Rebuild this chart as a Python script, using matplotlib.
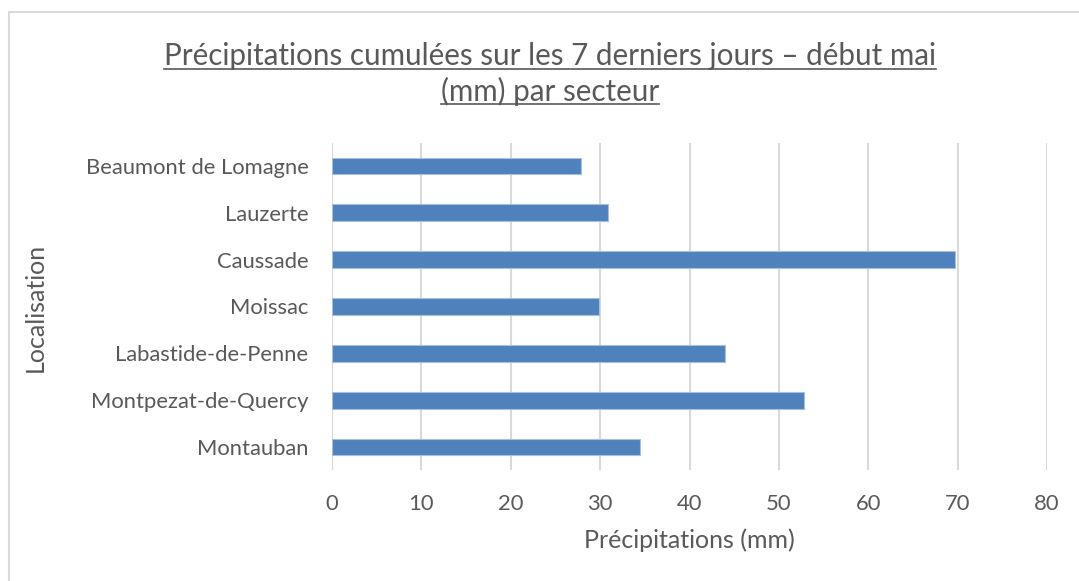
import matplotlib
matplotlib.use("Agg")
import matplotlib.pyplot as plt
from matplotlib.lines import Line2D
from matplotlib.patches import Rectangle

# Données (mm)
secteurs = [
    "Montauban",
    "Montpezat-de-Quercy",
    "Labastide-de-Penne",
    "Moissac",
    "Caussade",
    "Lauzerte",
    "Beaumont de Lomagne",
]
precipitations = [34.5, 52.8, 44.0, 29.9, 69.7, 30.9, 27.9]
x_ticks = [0, 10, 20, 30, 40, 50, 60, 70, 80]

TITRE_1 = "Précipitations cumulées sur les 7 derniers jours – début mai"
TITRE_2 = "(mm) par secteur"

GRIS_TEXTE = "#595959"
GRIS_GRILLE = "#d9d9d9"
BLEU = "#4f81bd"

plt.rcParams["font.family"] = ["Lato", "DejaVu Sans"]

W, H = 1079, 581
fig = plt.figure(figsize=(W / 100, H / 100), dpi=100)

# cadre du graphique (style Excel)
fig.patches.append(Rectangle((9 / W, -0.05), 1.2, (H - 12) / H + 0.05,
                             transform=fig.transFigure, fill=False,
                             edgecolor="#d9d9d9", linewidth=1.5))

ax = fig.add_axes([332 / W, 1 - 470.4 / H, (1047 - 332) / W, (470.4 - 142.6) / H])

ypos = list(range(len(secteurs)))
ax.barh(ypos, precipitations, height=0.36, color=BLEU,
        edgecolor="#a7bfde", linewidth=0.8, zorder=3)

ax.set_xlim(0, 80)
ax.set_ylim(-0.5, len(secteurs) - 0.5)
ax.set_xticks(x_ticks)
ax.set_yticks(ypos)
ax.set_yticklabels(secteurs)
ax.tick_params(axis="both", length=0, labelsize=15.8, colors=GRIS_TEXTE)
ax.tick_params(axis="x", pad=17)
ax.tick_params(axis="y", pad=17)
ax.grid(axis="x", color=GRIS_GRILLE, linewidth=1.5, zorder=0)
for s in ax.spines.values():
    s.set_visible(False)

ax.set_xlabel("Précipitations (mm)", fontsize=18, color=GRIS_TEXTE, labelpad=10.5)
fig.text(35 / W, 1 - 307 / H, "Localisation", rotation=90, fontsize=18,
         color=GRIS_TEXTE, ha="center", va="center")

# titre souligné, sur deux lignes
t1 = fig.text(550 / W, 1 - 65 / H, TITRE_1, fontsize=21.3, color=GRIS_TEXTE,
              ha="center", va="baseline")
t2 = fig.text(550 / W, 1 - 100.5 / H, TITRE_2, fontsize=21.3, color=GRIS_TEXTE,
              ha="center", va="baseline")

fig.canvas.draw()
renderer = fig.canvas.get_renderer()
for t, y_px in ((t1, 68.5), (t2, 104)):
    bb = t.get_window_extent(renderer)
    y = 1 - y_px / H
    fig.lines.append(Line2D([bb.x0 / W, bb.x1 / W], [y, y],
                            transform=fig.transFigure,
                            color=GRIS_TEXTE, linewidth=1.2))

fig.savefig("out.png", dpi=100)
